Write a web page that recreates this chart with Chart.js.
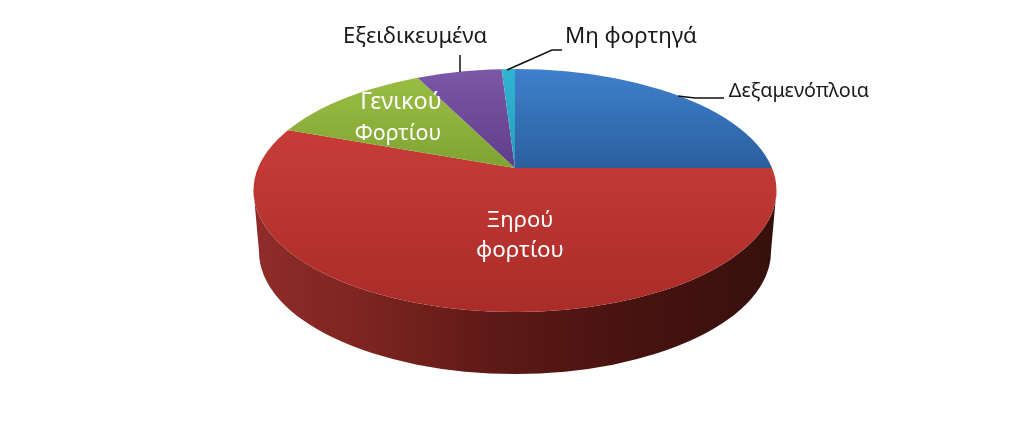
<!DOCTYPE html>
<html>
<head>
<meta charset="utf-8">
<style>
  html, body { margin: 0; padding: 0; background: #fff; }
  canvas { display: block; }
</style>
<script src="https://cdn.jsdelivr.net/npm/chart.js@4"></script>
</head>
<body>
<canvas id="pie" width="1024" height="441"></canvas>
<script>
const categories = ["Δεξαμενόπλοια", "Ξηρού φορτίου", "Γενικού Φορτίου", "Εξειδικευμένα", "Μη φορτηγά"];
const shares = [25, 55.5, 12.1, 6.4, 1];
const topColors = ["#3f80cc", "#c83c38", "#9cc044", "#7d57a8", "#2fb4d2"];
const bottomColors = ["#2a5f9e", "#a92c28", "#7fa332", "#5f3c8a", "#2a9cbc"];

// 3d look: the flat pie is squashed and clipped to an ellipse
const hub = { x: 515, y: 168 };
const rim = { x: 515, y: 190.5, rx: 261.5, ry: 121.5 };
const base = { x: 515, y: 251.5, rx: 256, ry: 122.5 };
const overscan = 1.35;
const sideOverscan = 2.4;

const labels = [
  { text: "Εξειδικευμένα", x: 415, y: 37, size: 22, color: "#1a1a1a" },
  { text: "Μη φορτηγά", x: 631, y: 37, size: 22.3, color: "#1a1a1a" },
  { text: "Δεξαμενόπλοια", x: 799, y: 91, size: 19.8, color: "#1a1a1a" },
  { text: "Γενικού", x: 401, y: 102, size: 23.4, color: "#fff" },
  { text: "Φορτίου", x: 398, y: 134, size: 21.4, color: "#fff" },
  { text: "Ξηρού", x: 520, y: 221, size: 22, color: "#fff" },
  { text: "φορτίου", x: 520, y: 251, size: 22.4, color: "#fff" }
];
const leaders = [
  [[460, 72], [460, 55]],
  [[507, 70], [552, 50], [562, 50]],
  [[678, 96], [695, 98], [724, 98]]
];

function fillArc(ctx, arc, style) {
  const saved = arc.options;
  arc.options = Object.assign({}, saved, { backgroundColor: style });
  arc.draw(ctx);
  arc.options = saved;
}

const fake3d = {
  id: "fake3d",
  beforeDatasetDraw(chart) {
    const ctx = chart.ctx;
    const arcs = chart.getDatasetMeta(0).data;
    const R = arcs[0].outerRadius;
    const ox = arcs[0].x, oy = arcs[0].y;

    // side wall, only the red slice shows at the front
    const wx = sideOverscan * rim.rx / R;
    const wy = sideOverscan * rim.ry / R;
    ctx.save();
    ctx.beginPath();
    ctx.ellipse(rim.x, rim.y, rim.rx, rim.ry, 0, 0, Math.PI);
    ctx.lineTo(base.x - base.rx, base.y);
    ctx.ellipse(base.x, base.y, base.rx, base.ry, 0, Math.PI, 0, true);
    ctx.closePath();
    ctx.clip();
    ctx.translate(hub.x, hub.y);
    ctx.scale(wx, wy);
    ctx.translate(-ox, -oy);
    const lx = X => ox + (X - hub.x) / wx;
    const side = ctx.createLinearGradient(lx(254), 0, lx(776), 0);
    side.addColorStop(0, "#8f2c29");
    side.addColorStop(0.2, "#7e2522");
    side.addColorStop(0.45, "#5f1a17");
    side.addColorStop(0.7, "#491311");
    side.addColorStop(1, "#36100d");
    fillArc(ctx, arcs[1], side);
    ctx.restore();

    // top face
    const sx = overscan * rim.rx / R;
    const sy = overscan * rim.ry / R;
    ctx.save();
    ctx.beginPath();
    ctx.ellipse(rim.x, rim.y, rim.rx, rim.ry, 0, 0, Math.PI * 2);
    ctx.clip();
    ctx.translate(hub.x, hub.y);
    ctx.scale(sx, sy);
    ctx.translate(-ox, -oy);
    const ly = Y => oy + (Y - hub.y) / sy;
    arcs.forEach((arc, i) => {
      const g = ctx.createLinearGradient(0, ly(i === 1 ? 130 : 69), 0, ly(i === 1 ? 312 : 170));
      g.addColorStop(0, topColors[i]);
      g.addColorStop(1, bottomColors[i]);
      fillArc(ctx, arc, g);
    });
    ctx.restore();
    return false;
  },
  afterDraw(chart) {
    const ctx = chart.ctx;
    ctx.save();
    ctx.strokeStyle = "#111";
    ctx.lineWidth = 1.5;
    leaders.forEach(pts => {
      ctx.beginPath();
      pts.forEach((p, i) => i ? ctx.lineTo(p[0], p[1]) : ctx.moveTo(p[0], p[1]));
      ctx.stroke();
    });
    ctx.textAlign = "center";
    ctx.textBaseline = "middle";
    labels.forEach(l => {
      ctx.font = l.size + 'px "Noto Sans"';
      ctx.fillStyle = l.color;
      ctx.fillText(l.text, l.x, l.y);
    });
    ctx.restore();
  }
};

new Chart(document.getElementById("pie"), {
  type: "pie",
  data: {
    labels: categories,
    datasets: [{ data: shares, backgroundColor: topColors, borderWidth: 0 }]
  },
  options: {
    responsive: false,
    animation: false,
    plugins: { legend: { display: false }, tooltip: { enabled: false } }
  },
  plugins: [fake3d]
});
</script>
</body>
</html>
